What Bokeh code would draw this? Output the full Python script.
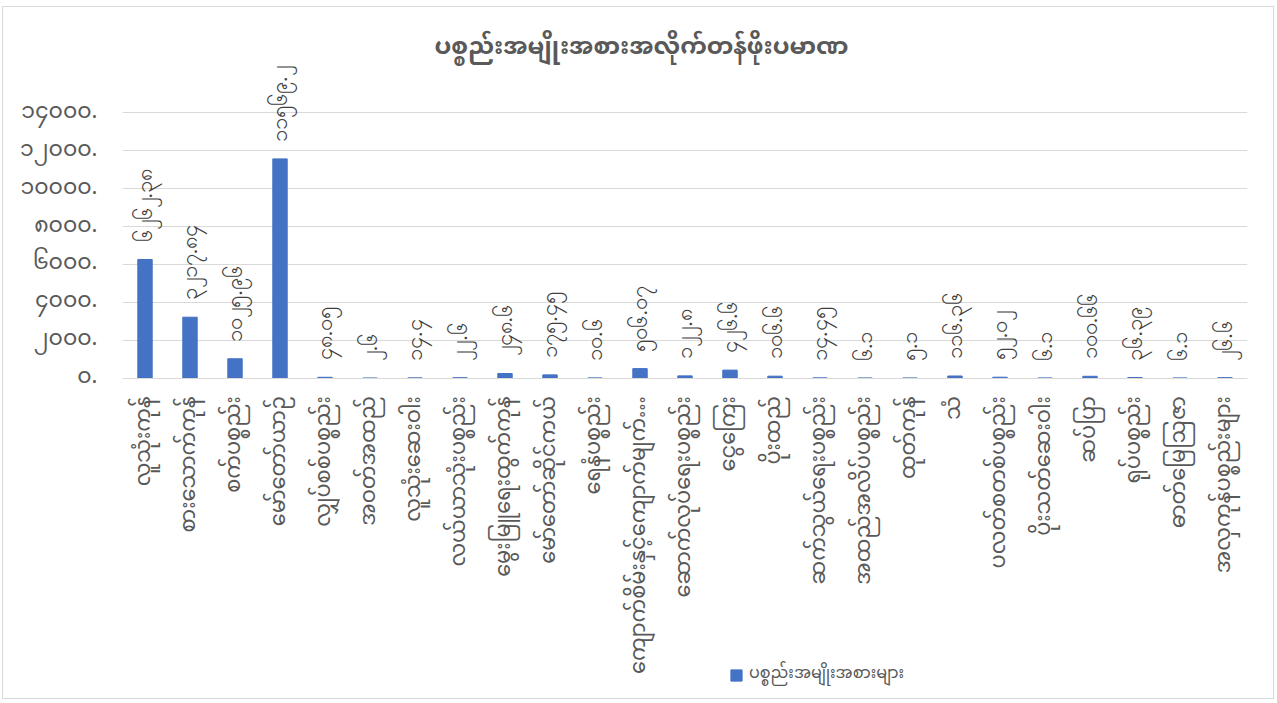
import math
from bokeh.plotting import figure
from bokeh.models import (FactorRange, Range1d, ColumnDataSource, LabelSet, Legend,
                          LegendItem, FixedTicker, Label)
from bokeh.embed import file_html
from bokeh.resources import INLINE

title_text = "ပစ္စည်းအမျိုးအစားအလိုက်တန်ဖိုးပမာဏ"
series_name = "ပစ္စည်းအမျိုးအစားများ"

categories = [
    "လူသုံးကုန်", "စားသောက်ကုန်", "စက်ပစ္စည်း", "မော်တော်ယာဉ်", "လျှပ်စစ်ပစ္စည်း",
    "အဝတ်အထည်", "လူသုံးဆေးဝါး", "လယ်ယာသုံးပစ္စည်း", "မွေးမြူရေးထွက်ကုန်", "မော်တော်ဆိုင်ကယ်",
    "ရေနံပစ္စည်း", "ကျောက်စိမ်းနှင့်ကျောက်မျက်…", "ဆောက်လုပ်ရေးပစ္စည်း", "ငွေကြေး", "ပိုးထည်",
    "ဆက်သွယ်ရေးပစ္စည်း", "အထည်အလိပ်ပစ္စည်း", "ထုတ်ကုန်", "သံ", "ပလတ်စတစ်ပစ္စည်း",
    "ပိုးသတ်ဆေးဝါး", "ဆပ်ပြာ", "ရုပ်ပစ္စည်း", "ဓာတ်မြေဩဇာ", "အလှကုန်ပစ္စည်းများ",
]
values = [
    6262.38, 3217.84, 1025.96, 11569.2, 48.05,
    2.6, 14.4, 22.6, 248.6, 175.45,
    10.6, 506.07, 122.8, 426.6, 106.6,
    14.45, 6.1, 5.1, 116.36, 52.02,
    6.1, 100.66, 36.39, 6.1, 26.6,
]
y_ticks = [0, 2000, 4000, 6000, 8000, 10000, 12000, 14000]

MM = str.maketrans("0123456789", "၀၁၂၃၄၅၆၇၈၉")


def mm(v):
    return ("%.2f" % v).rstrip("0").translate(MM)


FONT = "Noto Sans Myanmar"

# layout (canvas pixels; canvas sits at page offset (3, 7) inside a thin border)
W, H = 1272, 693
FRAME_LEFT, FRAME_RIGHT = 119, 1244
ZERO_Y, TOP_TICK_Y = 370.7, 105.3
ppu = (ZERO_Y - TOP_TICK_Y) / y_ticks[-1]
y_end = ZERO_Y / ppu
y_start = -(H - ZERO_Y) / ppu

p = figure(width=W, height=H, x_range=FactorRange(*categories),
           y_range=Range1d(y_start, y_end), output_backend="svg", toolbar_location=None,
           min_border_left=FRAME_LEFT, min_border_right=W - FRAME_RIGHT,
           min_border_top=0, min_border_bottom=0)
p.styles = {"border": "1px solid #d9d9d9", "margin-left": "2px", "margin-top": "6px"}
p.outline_line_color = None
p.xgrid.grid_line_color = None
p.ygrid.grid_line_color = "#d9d9d9"
p.ygrid.grid_line_width = 1

src = ColumnDataSource(dict(cat=categories, val=values, lab=[mm(v) for v in values]))
bars = p.vbar(x="cat", top="val", width=0.32, source=src, color="#4472C4")

labels = LabelSet(x="cat", y="val", text="lab", source=src, angle=math.pi / 2,
                  text_align="left", text_baseline="middle", y_offset=17,
                  text_font=FONT, text_font_size="22px", text_color="#404040")
p.add_layout(labels)

p.yaxis.ticker = FixedTicker(ticks=y_ticks)
p.yaxis.major_label_overrides = {t: mm(t) for t in y_ticks}
p.yaxis.axis_line_color = None
p.yaxis.major_tick_line_color = None
p.yaxis.minor_tick_line_color = None
p.yaxis.major_label_text_font = FONT
p.yaxis.major_label_text_font_size = "22px"
p.yaxis.major_label_text_color = "#595959"
p.yaxis.major_label_standoff = 19

p.xaxis.fixed_location = 0
p.xaxis.axis_line_color = "#d9d9d9"
p.xaxis.major_tick_line_color = None
p.xaxis.minor_tick_line_color = None
p.xaxis.major_label_orientation = math.pi / 2
p.xaxis.major_label_text_font = FONT
p.xaxis.major_label_text_font_size = "21px"
p.xaxis.major_label_text_color = "#595959"
p.xaxis.major_label_standoff = 12
p.x_range.range_padding = 0

title = Label(x=638 - FRAME_LEFT, y=(ZERO_Y - 41) / ppu,
              x_units="screen", y_units="data", text=title_text,
              text_align="center", text_baseline="middle", text_font=FONT,
              text_font_size="24px", text_font_style="bold", text_color="#595959")
p.add_layout(title)

legend = Legend(items=[LegendItem(label=series_name, renderers=[bars])],
                location=(726 - FRAME_LEFT, 8), orientation="horizontal",
                label_text_font=FONT, label_text_font_size="16px",
                label_text_color="#595959", glyph_width=14, glyph_height=14,
                label_height=14, padding=0, margin=0, spacing=0,
                label_standoff=6, border_line_color=None, background_fill_alpha=0)
p.add_layout(legend)

open("out.html", "w").write(file_html(p, INLINE))
